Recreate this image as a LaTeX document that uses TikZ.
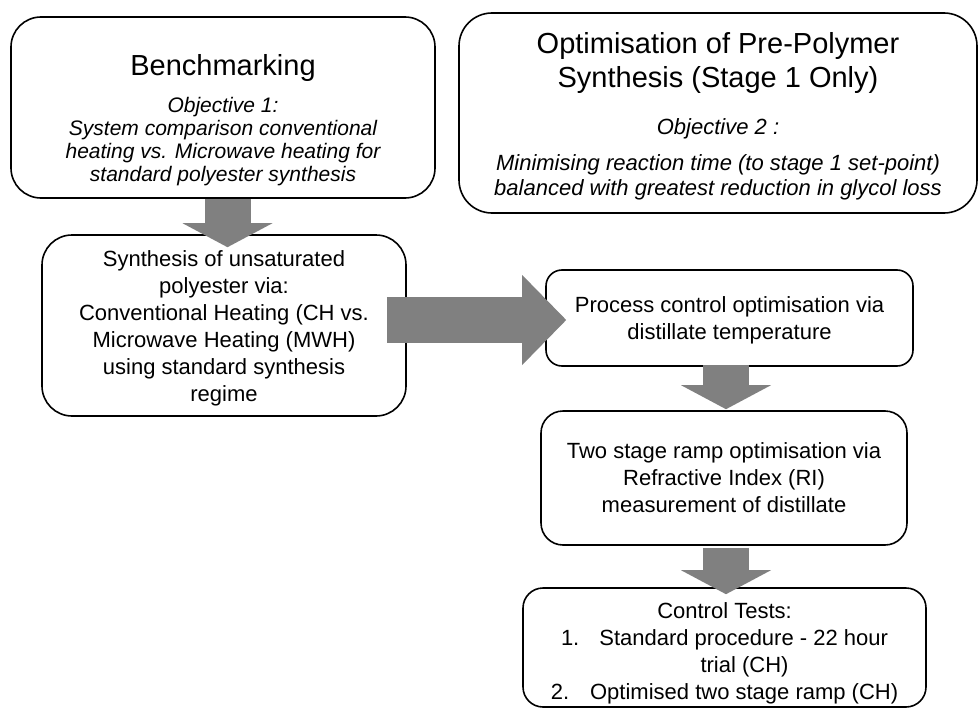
\documentclass[tikz,border=0pt]{standalone}
\usepackage{fontspec}
\setmainfont{Liberation Sans}
\usepackage{xcolor}
\usetikzlibrary{arrows.meta}
\definecolor{arrowgray}{RGB}{128,128,128}
\newcommand{\headfont}{\fontsize{29}{35}\selectfont\upshape}
\tikzset{
  stagebox/.style={draw=black,line width=1.6pt,fill=white,align=center,inner sep=0pt,text depth=0pt},
  fatarrow/.style={draw=arrowgray,line width=46pt,line cap=butt,-{Triangle[width=90pt,length=#1,line width=0pt]}},
  fatarrow/.default=24pt
}
\begin{document}
\begin{tikzpicture}[line cap=round,line join=round,x=1pt,y=-1pt,font=\fontsize{22}{27}\selectfont]
\useasboundingbox (0,0) rectangle (980,709);
\node[stagebox,rounded corners=30pt,minimum width=424pt,minimum height=181pt,text height=147pt,font=\fontsize{21}{23}\selectfont\itshape] (bench) at (223,107.5) {{\headfont Benchmarking}\\[14pt]Objective 1:\\System comparison conventional\\heating vs. Microwave heating for\\standard polyester synthesis};
\node[stagebox,rounded corners=33pt,minimum width=518pt,minimum height=200pt,text height=164pt,font=\fontsize{22}{24.5}\selectfont\itshape] (optim) at (718,113) {{\headfont Optimisation of Pre-Polymer}\\[6.4pt]{\headfont Synthesis (Stage 1 Only)}\\[22.5pt]Objective 2 :\\[11.5pt]Minimising reaction time (to stage 1 set-point)\\balanced with greatest reduction in glycol loss};
\node[stagebox,rounded corners=30pt,minimum width=364pt,minimum height=181pt,text height=151pt] (synth) at (224,325.5) {Synthesis of unsaturated\\polyester via:\\Conventional Heating (CH vs.\\Microwave Heating (MWH)\\using standard synthesis\\regime};
\node[stagebox,rounded corners=16pt,minimum width=367pt,minimum height=96pt,text height=42pt] (proc) at (729.5,318) {Process control optimisation via\\distillate temperature};
\node[stagebox,rounded corners=22pt,minimum width=366pt,minimum height=134pt,text height=69pt] (ramp) at (724,478) {Two stage ramp optimisation via\\Refractive Index (RI)\\measurement of distillate};
\node[stagebox,rounded corners=20pt,minimum width=403pt,minimum height=119pt,text height=103pt] (ctrl) at (724.5,647.5) {Control Tests:\\1.\hspace{20pt}Standard procedure - 22 hour\\\hspace*{40pt}trial (CH)\\2.\hspace{21pt}Optimised two stage ramp (CH)};
\draw[fatarrow] ([xshift=4.5pt]bench.south) -- ([xshift=3.5pt,yshift=-13pt]synth.north);
\draw[fatarrow=44pt] ([xshift=-20pt,yshift=5.5pt]synth.east) -- ([xshift=21pt,yshift=-2pt]proc.west);
\draw[fatarrow] ([xshift=-3.5pt,yshift=2pt]proc.south) -- ([xshift=2pt,yshift=1pt]ramp.north);
\draw[fatarrow] ([xshift=2pt,yshift=-2pt]ramp.south) -- ([xshift=1.5pt,yshift=-7pt]ctrl.north);
\end{tikzpicture}
\end{document}
